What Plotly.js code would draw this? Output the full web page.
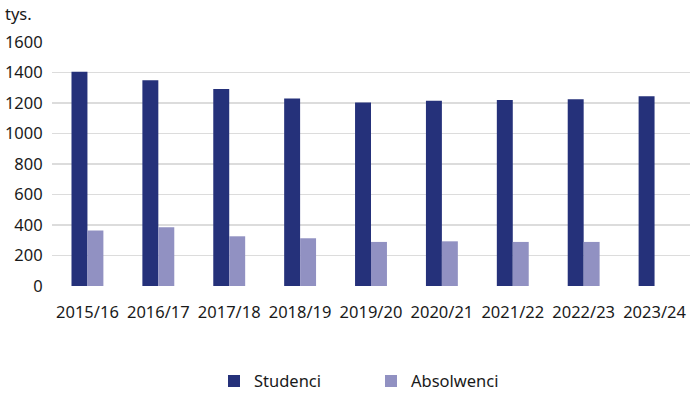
<!DOCTYPE html>
<html>
<head>
<meta charset="utf-8">
<script src="https://cdn.plot.ly/plotly-3.0.1.min.js"></script>
<style>html,body{margin:0;padding:0;background:#fff;}#chart{width:700px;height:396px;}</style>
</head>
<body>
<div id="chart"></div>
<script>
const categories = ["2015/16","2016/17","2017/18","2018/19","2019/20","2020/21","2021/22","2022/23","2023/24"];
const studenci = [1405, 1349, 1291, 1230, 1204, 1215, 1219, 1225, 1244];
const absolwenci = [364, 386, 326, 313, 289, 293, 289, 289, null];
const seriesNames = ["Studenci", "Absolwenci"];
const unitLabel = "tys.";

const font = {family: "Noto Sans, Open Sans, sans-serif", size: 16.5, color: "#1a1a1a"};

const traces = [
  {type: "bar", name: seriesNames[0], x: categories, y: studenci,
   marker: {color: "#25317a"}, hoverinfo: "x+y"},
  {type: "bar", name: seriesNames[1], x: categories, y: absolwenci,
   marker: {color: "#9191c2"}, hoverinfo: "x+y"}
];

const layout = {
  width: 700, height: 396,
  margin: {l: 52, r: 10, t: 42, b: 110, autoexpand: false},
  paper_bgcolor: "#fff", plot_bgcolor: "#fff",
  font: font,
  barmode: "group",
  bargap: 0.55,
  bargroupgap: 0,
  showlegend: true,
  legend: {orientation: "h", x: 0.5, xanchor: "center", y: -0.39, yanchor: "middle",
           font: font, entrywidth: 112, itemwidth: 30, traceorder: "normal"},
  xaxis: {type: "category", showgrid: false, zeroline: false, showline: false,
          ticks: "outside", ticklen: 11, tickcolor: "rgba(0,0,0,0)",
          tickfont: font, fixedrange: true},
  yaxis: {range: [0, 1600], dtick: 200, showgrid: true, gridcolor: "#dcdcdc", gridwidth: 1.5,
          zeroline: false, showline: false, ticks: "outside", ticklen: 5, tickcolor: "rgba(0,0,0,0)",
          tickfont: font, fixedrange: true},
  annotations: [
    {text: unitLabel, xref: "paper", yref: "paper", x: -0.077, y: 1.115, xanchor: "left", yanchor: "middle",
     showarrow: false, font: font}
  ]
};

Plotly.newPlot("chart", traces, layout, {displayModeBar: false, staticPlot: true});
</script>
</body>
</html>
